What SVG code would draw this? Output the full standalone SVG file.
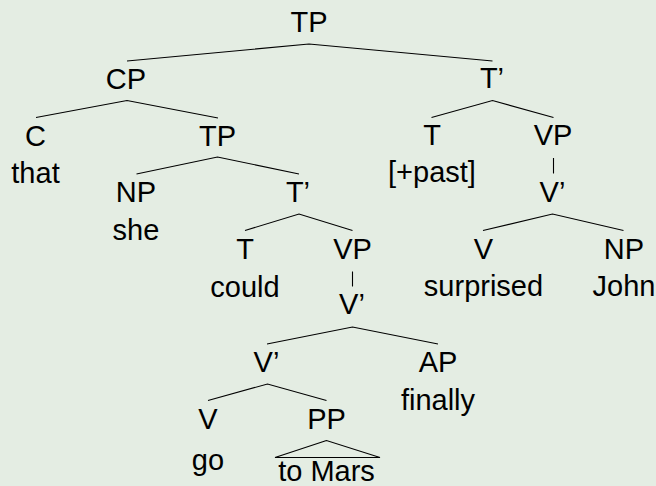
<svg xmlns="http://www.w3.org/2000/svg" width="656" height="486" viewBox="0 0 656 486">
  <style>
    text { font-family: "Liberation Sans", Arial, sans-serif; font-size: 29px; fill: #000; text-anchor: middle; }
    .edge { stroke: #000; stroke-width: 1.1; fill: none; }
  </style>
  <rect width="656" height="486" fill="#e4ede3"/>

  <!-- branches -->
  <g id="connectors">
    <polyline class="edge" points="127,61 309,44 492.5,61"/>
    <polyline class="edge" points="36,117.5 127,100.5 218,118"/>
    <polyline class="edge" points="136.5,174 217.5,157 299,174"/>
    <polyline class="edge" points="245,230.5 299,214 352.5,230.5"/>
    <line class="edge" x1="352.5" y1="271.5" x2="352.5" y2="286.5"/>
    <polyline class="edge" points="267,344 352.5,327 438,344"/>
    <polyline class="edge" points="208,400.5 267.5,384 326.5,400.5"/>
    <polygon class="edge" points="326.5,440.5 275,457.5 380,457.5"/>
    <polyline class="edge" points="431.5,117.5 492.5,100.5 553.5,117.5"/>
    <line class="edge" x1="553.5" y1="158" x2="553.5" y2="173.5"/>
    <polyline class="edge" points="483,230.5 552.5,214 623.5,230.5"/>
  </g>

  <g id="tp-root"><text x="309" y="32">TP</text></g>
  <g id="cp"><text x="126" y="89">CP</text></g>
  <g id="tbar-main"><text x="492" y="88">T’</text></g>
  <g id="c"><text x="35.5" y="145.5">C</text><text x="35.5" y="183">that</text></g>
  <g id="tp-embedded"><text x="217.5" y="145.5">TP</text></g>
  <g id="np-she"><text x="136" y="201.5">NP</text><text x="136" y="240">she</text></g>
  <g id="tbar-embedded"><text x="298" y="201.5">T’</text></g>
  <g id="t-could"><text x="245" y="259">T</text><text x="245" y="296.5">could</text></g>
  <g id="vp-embedded"><text x="352.5" y="259">VP</text></g>
  <g id="vbar-upper"><text x="352" y="314">V’</text></g>
  <g id="vbar-lower"><text x="266.5" y="371.5">V’</text></g>
  <g id="ap"><text x="438" y="371.5">AP</text><text x="438" y="410">finally</text></g>
  <g id="v-go"><text x="208" y="428.5">V</text><text x="208" y="470">go</text></g>
  <g id="pp"><text x="326.5" y="428.5">PP</text><text x="326.5" y="481">to Mars</text></g>
  <g id="t-past"><text x="432" y="145">T</text><text x="432" y="181.5">[+past]</text></g>
  <g id="vp-main"><text x="553" y="145">VP</text></g>
  <g id="vbar-main"><text x="552.5" y="201.5">V’</text></g>
  <g id="v-surprised"><text x="483.5" y="258.5">V</text><text x="483.5" y="296">surprised</text></g>
  <g id="np-john"><text x="624" y="258.5">NP</text><text x="624" y="296">John</text></g>
</svg>
